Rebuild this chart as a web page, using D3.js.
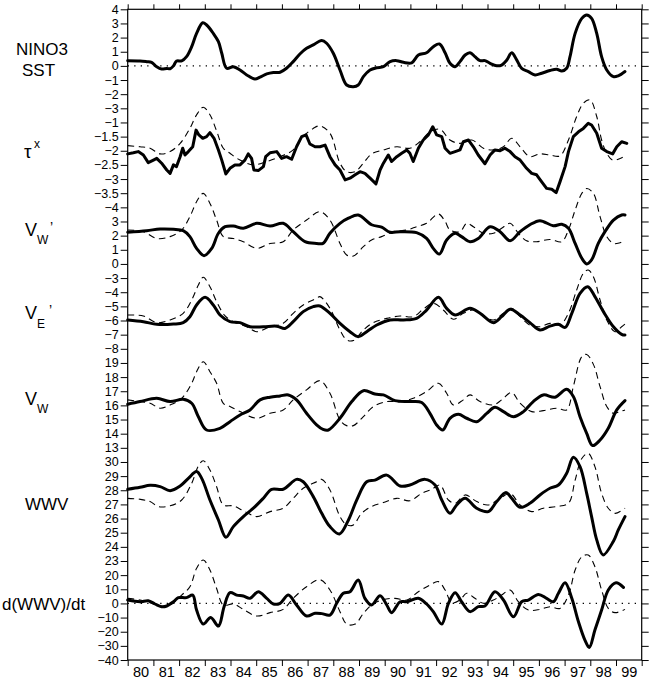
<!DOCTYPE html>
<html>
<head>
<meta charset="utf-8">
<script src="https://cdn.jsdelivr.net/npm/d3@7"></script>
<style>
  html, body { margin: 0; padding: 0; background: #fff; }
  svg text { font-family: "Liberation Sans", Arial, Helvetica, sans-serif; fill: #000; }
</style>
</head>
<body>
<svg id="chart" width="650" height="680"></svg>
<script>
// ---------------- DATA ----------------
const yearTicks = [1980,1981,1982,1983,1984,1985,1986,1987,1988,1989,1990,1991,1992,1993,1994,1995,1996,1997,1998,1999,2000];
const yearLabels = ["80","81","82","83","84","85","86","87","88","89","90","91","92","93","94","95","96","97","98","99"];

const nino3Ticks = [4,3,2,1,0,-1,-2,-3];
const tauTicks   = [-1,-1.5,-2,-2.5,-3,-3.5,-4];
const vwpTicks   = [3,2,1,0];
const vepTicks   = [-3,-4,-5,-6,-7,-8];
const vwTicks    = [19,18,17,16,15,14,13];
const wwvTicks   = [30,29,28,27,26,25,24,23];
const dwwvTicks  = [20,10,0,-10,-20,-30,-40];

const nino3Obs = [[1980.0,0.37],[1980.48,0.35],[1980.74,0.3],[1980.93,0.25],[1981.13,-0.06],[1981.32,-0.22],[1981.52,-0.18],[1981.65,-0.2],[1981.78,0.0],[1981.9,0.34],[1982.1,0.35],[1982.29,0.65],[1982.49,1.36],[1982.68,2.3],[1982.92,3.05],[1983.07,2.89],[1983.33,2.3],[1983.53,1.71],[1983.66,0.89],[1983.85,-0.17],[1984.11,-0.06],[1984.37,-0.29],[1984.63,-0.64],[1984.95,-0.93],[1985.15,-0.8],[1985.41,-0.57],[1985.67,-0.47],[1985.93,-0.45],[1986.18,-0.17],[1986.44,0.3],[1986.7,0.84],[1986.96,1.24],[1987.22,1.48],[1987.55,1.8],[1987.74,1.6],[1988.0,0.89],[1988.26,-0.29],[1988.52,-1.35],[1988.78,-1.47],[1988.97,-1.35],[1989.17,-0.76],[1989.43,-0.29],[1989.69,-0.13],[1989.95,-0.06],[1990.21,0.3],[1990.47,0.37],[1990.73,0.25],[1991.05,0.22],[1991.31,0.77],[1991.63,0.93],[1991.89,1.36],[1992.13,1.55],[1992.35,0.93],[1992.54,0.18],[1992.74,-0.06],[1992.93,0.3],[1993.13,0.77],[1993.32,0.93],[1993.51,0.65],[1993.71,0.37],[1993.9,0.37],[1994.1,0.18],[1994.36,0.01],[1994.55,0.06],[1994.75,0.41],[1994.94,0.93],[1995.14,0.41],[1995.33,-0.17],[1995.59,-0.4],[1995.85,-0.64],[1996.11,-0.52],[1996.43,-0.33],[1996.69,-0.24],[1996.89,-0.36],[1997.08,-0.17],[1997.21,0.65],[1997.41,2.3],[1997.67,3.36],[1997.86,3.6],[1998.05,3.36],[1998.25,2.3],[1998.44,0.65],[1998.64,-0.29],[1998.9,-0.76],[1999.09,-0.7],[1999.35,-0.4]];

const tauObs = [[1980.0,-2.11],[1980.22,-2.07],[1980.41,-2.03],[1980.61,-2.15],[1980.8,-2.42],[1981.0,-2.33],[1981.13,-2.27],[1981.32,-2.44],[1981.52,-2.68],[1981.65,-2.8],[1981.78,-2.5],[1981.9,-2.56],[1982.04,-2.21],[1982.14,-1.91],[1982.23,-2.15],[1982.36,-2.03],[1982.53,-1.86],[1982.66,-1.27],[1982.77,-1.44],[1982.92,-1.56],[1983.07,-1.5],[1983.2,-1.36],[1983.36,-1.56],[1983.53,-1.97],[1983.66,-2.33],[1983.82,-2.82],[1983.98,-2.62],[1984.17,-2.5],[1984.37,-2.5],[1984.56,-2.33],[1984.69,-2.11],[1984.82,-2.27],[1984.91,-2.68],[1985.08,-2.7],[1985.28,-2.56],[1985.37,-2.21],[1985.54,-2.07],[1985.8,-2.03],[1985.99,-2.27],[1986.18,-2.21],[1986.38,-2.3],[1986.57,-1.86],[1986.77,-1.5],[1986.94,-1.44],[1987.09,-1.76],[1987.29,-1.86],[1987.48,-1.86],[1987.68,-1.8],[1987.87,-2.21],[1988.07,-2.5],[1988.26,-2.68],[1988.46,-3.03],[1988.65,-2.97],[1988.85,-2.85],[1989.04,-2.74],[1989.23,-2.8],[1989.43,-2.97],[1989.66,-3.17],[1989.82,-2.68],[1989.95,-2.44],[1990.14,-2.15],[1990.27,-2.38],[1990.47,-2.21],[1990.66,-2.09],[1990.86,-1.97],[1990.98,-2.09],[1991.11,-2.38],[1991.31,-1.91],[1991.5,-1.62],[1991.7,-1.44],[1991.87,-1.15],[1992.02,-1.44],[1992.22,-1.5],[1992.35,-1.91],[1992.54,-2.09],[1992.74,-2.03],[1992.93,-1.97],[1993.06,-1.68],[1993.26,-1.62],[1993.45,-1.86],[1993.64,-2.15],[1993.9,-2.46],[1994.1,-2.15],[1994.29,-1.97],[1994.49,-2.0],[1994.68,-1.91],[1994.88,-2.03],[1995.07,-2.21],[1995.27,-2.33],[1995.52,-2.62],[1995.72,-2.8],[1995.91,-2.85],[1996.11,-3.1],[1996.3,-3.33],[1996.5,-3.36],[1996.67,-3.48],[1996.82,-3.1],[1997.02,-2.56],[1997.15,-2.03],[1997.34,-1.5],[1997.54,-1.33],[1997.73,-1.21],[1997.92,-1.03],[1998.05,-1.09],[1998.25,-1.38],[1998.44,-1.91],[1998.64,-2.03],[1998.87,-2.11],[1999.03,-1.86],[1999.22,-1.68],[1999.42,-1.74]];

const tauMod = [[1980.0,-1.82],[1980.48,-1.86],[1980.87,-1.91],[1981.26,-2.11],[1981.65,-2.03],[1982.04,-1.74],[1982.42,-1.21],[1982.68,-0.73],[1982.94,-0.46],[1983.2,-0.73],[1983.46,-1.3],[1983.72,-1.91],[1983.98,-2.09],[1984.37,-2.33],[1984.89,-2.5],[1985.41,-2.38],[1985.93,-2.21],[1986.44,-1.97],[1986.83,-1.5],[1987.22,-1.21],[1987.48,-1.12],[1987.87,-1.38],[1988.26,-2.44],[1988.52,-2.74],[1988.85,-2.74],[1989.17,-2.44],[1989.49,-2.11],[1989.95,-1.97],[1990.47,-1.86],[1990.98,-1.91],[1991.37,-1.68],[1991.76,-1.33],[1992.15,-1.24],[1992.54,-1.62],[1992.93,-1.74],[1993.39,-1.62],[1993.84,-1.91],[1994.23,-1.97],[1994.62,-1.86],[1994.94,-1.56],[1995.27,-1.86],[1995.65,-2.21],[1996.04,-2.11],[1996.43,-2.15],[1996.82,-2.18],[1997.15,-1.62],[1997.47,-0.79],[1997.73,-0.32],[1997.99,-0.2],[1998.25,-0.79],[1998.44,-1.62],[1998.64,-2.09],[1998.87,-2.33],[1999.16,-2.27],[1999.35,-2.18]];

const vwpObs = [[1980.0,2.24],[1980.74,2.35],[1981.26,2.47],[1981.78,2.45],[1982.16,2.35],[1982.42,1.93],[1982.68,1.1],[1982.97,0.58],[1983.27,1.1],[1983.53,2.17],[1983.79,2.63],[1984.11,2.68],[1984.5,2.52],[1985.02,2.87],[1985.54,2.68],[1986.05,2.87],[1986.44,2.28],[1986.9,1.57],[1987.35,1.45],[1987.6,1.45],[1987.87,2.17],[1988.26,2.87],[1988.59,3.23],[1988.97,3.46],[1989.49,2.77],[1989.88,2.6],[1990.21,2.24],[1990.6,2.28],[1991.24,2.21],[1991.63,1.8],[1991.89,1.1],[1992.13,0.7],[1992.41,1.69],[1992.74,2.17],[1992.99,1.93],[1993.32,1.57],[1993.64,1.8],[1994.1,2.63],[1994.49,2.28],[1994.88,1.64],[1995.27,2.28],[1995.65,2.77],[1996.04,3.06],[1996.56,2.7],[1996.89,2.8],[1997.15,2.52],[1997.41,1.45],[1997.67,0.4],[1997.86,0.0],[1998.05,0.28],[1998.31,1.45],[1998.57,2.28],[1998.9,3.1],[1999.22,3.46],[1999.35,3.46]];

const vwpMod = [[1980.0,2.4],[1980.61,2.28],[1981.13,1.8],[1981.65,1.93],[1982.1,2.4],[1982.42,3.34],[1982.68,4.4],[1982.94,4.99],[1983.2,4.28],[1983.46,3.1],[1983.72,1.93],[1984.11,1.8],[1984.5,1.57],[1985.02,1.1],[1985.54,1.45],[1986.05,1.57],[1986.44,2.4],[1986.96,3.1],[1987.48,3.69],[1987.87,3.1],[1988.26,1.45],[1988.52,0.63],[1988.78,0.56],[1989.17,1.22],[1989.49,1.69],[1989.88,1.93],[1990.34,2.28],[1990.86,2.4],[1991.24,2.63],[1991.63,2.87],[1992.09,3.53],[1992.35,3.0],[1992.54,2.4],[1992.93,2.28],[1993.19,2.87],[1993.45,2.63],[1993.84,2.17],[1994.23,2.17],[1994.55,2.52],[1994.88,2.87],[1995.2,2.17],[1995.52,1.64],[1995.91,1.57],[1996.43,1.73],[1996.89,1.57],[1997.15,2.4],[1997.41,3.81],[1997.67,4.99],[1997.86,5.33],[1998.12,4.99],[1998.38,3.34],[1998.64,1.93],[1998.9,1.45],[1999.16,1.5],[1999.35,1.64]];

const vepObs = [[1980.0,-5.96],[1980.61,-6.08],[1981.13,-6.27],[1981.78,-6.25],[1982.16,-6.15],[1982.42,-5.73],[1982.68,-4.9],[1983.01,-4.36],[1983.33,-4.9],[1983.59,-5.61],[1983.98,-6.08],[1984.37,-6.15],[1984.76,-6.44],[1985.28,-6.44],[1985.8,-6.4],[1986.12,-6.56],[1986.44,-6.08],[1986.83,-5.37],[1987.22,-5.02],[1987.48,-4.97],[1987.87,-5.49],[1988.26,-6.2],[1988.65,-6.79],[1988.97,-7.14],[1989.3,-6.79],[1989.69,-6.32],[1990.21,-5.96],[1990.73,-5.96],[1991.24,-5.85],[1991.63,-5.26],[1992.09,-4.36],[1992.41,-5.14],[1992.74,-5.61],[1993.32,-5.14],[1993.71,-5.49],[1994.23,-6.15],[1994.55,-5.73],[1994.88,-5.2],[1995.27,-5.61],[1995.65,-6.15],[1996.04,-6.67],[1996.43,-6.4],[1996.76,-6.27],[1997.02,-6.49],[1997.28,-5.49],[1997.6,-4.08],[1997.9,-3.61],[1998.18,-4.31],[1998.51,-5.37],[1998.9,-6.44],[1999.22,-6.98],[1999.35,-7.03]];

const vepMod = [[1980.0,-5.61],[1980.61,-5.68],[1981.13,-6.15],[1981.65,-5.96],[1982.16,-5.49],[1982.49,-4.55],[1982.75,-3.49],[1982.94,-2.94],[1983.2,-3.61],[1983.46,-4.67],[1983.79,-5.68],[1984.11,-6.08],[1984.63,-6.44],[1985.02,-6.79],[1985.54,-6.44],[1986.05,-6.2],[1986.44,-5.49],[1986.83,-4.9],[1987.35,-4.43],[1987.48,-4.31],[1987.87,-5.14],[1988.26,-6.67],[1988.52,-7.37],[1988.78,-7.42],[1989.17,-6.67],[1989.56,-6.15],[1990.08,-5.85],[1990.6,-5.68],[1991.11,-5.73],[1991.5,-5.2],[1991.89,-4.78],[1992.28,-5.26],[1992.67,-5.91],[1993.06,-5.49],[1993.45,-5.26],[1993.84,-5.68],[1994.23,-5.96],[1994.62,-5.49],[1994.94,-5.14],[1995.27,-5.73],[1995.65,-6.32],[1996.04,-6.44],[1996.43,-6.2],[1996.82,-6.32],[1997.15,-5.49],[1997.47,-3.84],[1997.73,-2.66],[1997.92,-2.43],[1998.12,-2.9],[1998.38,-4.55],[1998.64,-5.96],[1998.96,-6.79],[1999.22,-6.44],[1999.35,-6.25]];

const vwObs = [[1980.0,16.08],[1980.48,16.27],[1981.13,16.5],[1981.65,16.27],[1982.16,16.43],[1982.49,16.15],[1982.75,15.2],[1983.07,14.26],[1983.59,14.38],[1983.98,14.85],[1984.37,15.32],[1984.76,15.68],[1985.15,16.39],[1985.54,16.58],[1985.93,16.67],[1986.25,16.74],[1986.57,16.39],[1986.96,15.44],[1987.35,14.62],[1987.6,14.3],[1987.81,14.26],[1988.26,15.09],[1988.72,16.27],[1989.17,17.04],[1989.62,16.8],[1989.95,16.74],[1990.4,16.34],[1990.98,16.27],[1991.44,16.2],[1991.76,15.44],[1992.02,14.62],[1992.26,14.26],[1992.54,15.09],[1992.87,15.37],[1993.19,15.09],[1993.58,14.85],[1993.97,15.44],[1994.29,15.86],[1994.62,15.56],[1995.01,15.2],[1995.4,15.56],[1995.78,16.27],[1996.17,16.74],[1996.63,16.58],[1997.08,17.14],[1997.34,16.63],[1997.6,15.2],[1997.86,14.02],[1998.09,13.16],[1998.38,13.55],[1998.7,14.38],[1999.03,15.68],[1999.35,16.34]];

const vwMod = [[1980.0,16.39],[1980.48,16.27],[1980.87,16.15],[1981.26,15.8],[1981.65,16.03],[1982.1,16.5],[1982.49,17.56],[1982.68,18.38],[1982.94,19.09],[1983.2,18.38],[1983.46,17.56],[1983.72,16.15],[1983.98,15.92],[1984.37,15.56],[1985.02,15.09],[1985.54,15.44],[1986.05,15.68],[1986.44,16.39],[1986.96,17.1],[1987.48,17.75],[1987.87,16.86],[1988.26,14.97],[1988.52,14.57],[1988.78,14.57],[1989.17,15.2],[1989.56,15.92],[1990.08,16.27],[1990.6,16.27],[1991.11,16.5],[1991.63,16.98],[1992.09,17.56],[1992.41,16.86],[1992.67,16.03],[1993.06,16.39],[1993.32,16.74],[1993.71,16.27],[1994.23,16.03],[1994.55,16.39],[1994.94,16.91],[1995.27,16.15],[1995.72,15.56],[1996.17,15.63],[1996.69,15.8],[1997.08,15.68],[1997.34,17.33],[1997.67,19.45],[1997.86,19.6],[1998.12,18.9],[1998.38,17.33],[1998.64,15.92],[1998.9,15.44],[1999.16,15.56],[1999.35,15.68]];

const wwvObs = [[1980.0,28.07],[1980.48,28.21],[1980.87,28.35],[1981.26,28.26],[1981.65,27.97],[1982.04,28.3],[1982.36,28.84],[1982.68,29.32],[1982.88,28.84],[1983.2,27.31],[1983.53,25.9],[1983.82,24.68],[1984.11,25.43],[1984.5,26.14],[1984.89,26.73],[1985.28,27.44],[1985.6,28.07],[1986.05,28.07],[1986.57,28.77],[1986.83,28.6],[1987.22,27.55],[1987.55,26.37],[1987.87,25.43],[1988.24,24.91],[1988.59,25.9],[1988.91,27.31],[1989.3,28.6],[1989.62,28.72],[1990.08,29.07],[1990.6,28.3],[1990.98,28.37],[1991.57,28.77],[1991.96,28.37],[1992.22,27.31],[1992.54,26.37],[1992.8,26.96],[1993.13,27.44],[1993.58,26.73],[1994.03,26.49],[1994.36,27.2],[1994.72,27.84],[1994.94,27.44],[1995.27,26.8],[1995.65,27.08],[1996.04,27.67],[1996.43,28.14],[1996.76,28.37],[1997.08,29.2],[1997.34,30.33],[1997.6,29.67],[1997.86,27.78],[1998.05,26.14],[1998.25,24.49],[1998.5,23.43],[1998.9,24.4],[1999.09,25.2],[1999.35,26.14]];

const wwvMod = [[1980.0,27.43],[1980.48,27.36],[1980.87,27.2],[1981.19,26.85],[1981.65,26.9],[1982.1,27.31],[1982.49,28.49],[1982.75,29.72],[1982.94,30.09],[1983.2,29.43],[1983.46,28.25],[1983.72,26.96],[1984.11,26.9],[1984.5,26.55],[1985.02,26.14],[1985.54,26.49],[1986.05,26.73],[1986.44,27.43],[1986.83,28.14],[1987.35,28.6],[1987.55,28.77],[1987.87,28.02],[1988.26,26.14],[1988.52,25.55],[1988.78,25.55],[1989.1,26.37],[1989.49,26.85],[1989.95,27.13],[1990.47,27.43],[1990.98,27.26],[1991.44,27.78],[1991.83,28.07],[1992.15,28.37],[1992.48,27.31],[1992.74,27.08],[1993.13,27.67],[1993.58,27.2],[1994.03,26.96],[1994.49,27.43],[1994.88,27.78],[1995.27,26.96],[1995.72,26.49],[1996.17,26.73],[1996.69,26.85],[1997.15,27.08],[1997.41,28.72],[1997.67,30.25],[1997.92,30.61],[1998.18,29.67],[1998.44,27.78],[1998.7,26.73],[1998.96,26.37],[1999.35,26.73]];

const dwwvObs = [[1980.0,2.4],[1980.48,1.2],[1980.8,1.9],[1981.06,-0.4],[1981.32,-2.3],[1981.52,-1.8],[1981.78,1.2],[1981.97,4.1],[1982.29,4.1],[1982.53,5.9],[1982.68,-4.7],[1982.94,-14.6],[1983.23,-9.9],[1983.53,-16.0],[1983.75,-2.3],[1983.98,7.6],[1984.24,5.9],[1984.5,5.2],[1984.76,3.6],[1985.08,8.3],[1985.41,3.6],[1985.67,-0.4],[1985.93,0.1],[1986.25,5.9],[1986.57,-1.1],[1986.96,-8.9],[1987.29,-7.0],[1987.55,-7.2],[1987.87,-8.2],[1988.13,0.1],[1988.39,7.2],[1988.65,8.3],[1988.97,16.5],[1989.23,3.6],[1989.49,-1.1],[1989.82,5.5],[1990.08,-1.1],[1990.27,-6.5],[1990.6,1.2],[1990.86,1.2],[1991.31,3.6],[1991.63,-0.4],[1991.89,-5.8],[1992.22,-14.6],[1992.48,0.1],[1992.74,7.6],[1992.99,1.2],[1993.32,-5.8],[1993.64,-2.3],[1993.9,-1.8],[1994.29,8.3],[1994.62,2.4],[1995.01,-9.4],[1995.33,1.2],[1995.59,2.4],[1995.98,6.4],[1996.3,3.6],[1996.56,1.2],[1996.76,7.2],[1997.02,14.6],[1997.28,3.6],[1997.54,-13.0],[1997.79,-25.9],[1997.96,-31.1],[1998.18,-18.8],[1998.44,-4.7],[1998.7,9.5],[1999.0,14.6],[1999.29,11.3]];

const dwwvMod = [[1980.0,3.6],[1980.48,2.4],[1980.87,0.5],[1981.26,-1.8],[1981.65,-1.1],[1982.1,5.9],[1982.42,11.8],[1982.68,24.8],[1982.94,30.7],[1983.2,23.6],[1983.46,10.6],[1983.72,-1.1],[1984.11,-0.4],[1984.5,-4.2],[1985.02,-8.9],[1985.54,-6.5],[1986.05,-4.2],[1986.44,3.6],[1986.96,11.8],[1987.48,16.8],[1987.87,9.5],[1988.26,-5.8],[1988.52,-14.6],[1988.85,-14.6],[1989.17,-7.0],[1989.49,-1.1],[1989.88,2.4],[1990.4,3.6],[1990.86,2.4],[1991.31,8.3],[1991.76,13.0],[1992.09,15.4],[1992.35,9.5],[1992.61,0.5],[1992.93,2.4],[1993.19,7.2],[1993.51,3.6],[1993.84,0.1],[1994.23,2.4],[1994.55,5.9],[1994.88,9.5],[1995.2,1.2],[1995.59,-4.7],[1996.04,-4.2],[1996.43,-2.3],[1996.82,-3.5],[1997.15,5.9],[1997.41,23.6],[1997.67,33.0],[1997.92,34.2],[1998.18,25.9],[1998.44,9.5],[1998.7,-3.5],[1998.96,-6.5],[1999.35,-4.2]];

// ---------------- LAYOUT ----------------
const svg = d3.select("#chart");
const X0 = 127.7, X1 = 641.7, YTOP = 9.3, STEP = 14.146;

const x = d3.scaleLinear().domain([1980, 2000]).range([X0, X1]);

const panels = [
  {ticks: nino3Ticks, obs: nino3Obs, mod: null,    zero: true,  jagged: false},
  {ticks: tauTicks,   obs: tauObs,   mod: tauMod,  zero: false, jagged: true},
  {ticks: vwpTicks,   obs: vwpObs,   mod: vwpMod,  zero: false, jagged: false},
  {ticks: vepTicks,   obs: vepObs,   mod: vepMod,  zero: false, jagged: false},
  {ticks: vwTicks,    obs: vwObs,    mod: vwMod,   zero: false, jagged: false},
  {ticks: wwvTicks,   obs: wwvObs,   mod: wwvMod,  zero: false, jagged: false},
  {ticks: dwwvTicks,  obs: dwwvObs,  mod: dwwvMod, zero: true,  jagged: false}
];

let idx = 0;
panels.forEach(p => {
  const first = idx, last = idx + p.ticks.length - 1;
  p.y = d3.scaleLinear()
    .domain([p.ticks[0], p.ticks[p.ticks.length - 1]])
    .range([YTOP + first * STEP, YTOP + last * STEP]);
  idx += p.ticks.length;
});
const YBOT = YTOP + (idx - 1) * STEP;

const fmt = d3.format("");

// zero dotted lines
panels.filter(p => p.zero).forEach(p => {
  svg.append("line")
    .attr("x1", X0).attr("x2", X1)
    .attr("y1", p.y(0)).attr("y2", p.y(0))
    .attr("stroke", "#000").attr("stroke-width", 1.3)
    .attr("stroke-dasharray", "1.3,5.2");
});

// curves
panels.forEach(p => {
  const smooth = d3.line().x(d => x(d[0])).y(d => p.y(d[1])).curve(d3.curveCatmullRom.alpha(0.5));
  const lin = d3.line().x(d => x(d[0])).y(d => p.y(d[1])).curve(d3.curveLinear);
  if (p.mod) {
    svg.append("path").attr("d", smooth(p.mod))
      .attr("fill", "none").attr("stroke", "#000").attr("stroke-width", 1.1)
      .attr("stroke-dasharray", "6.5,4.5");
  }
  svg.append("path").attr("d", (p.jagged ? lin : smooth)(p.obs))
    .attr("fill", "none").attr("stroke", "#000").attr("stroke-width", 3)
    .attr("stroke-linejoin", "round").attr("stroke-linecap", "round");
});

// left axes (per panel)
panels.forEach(p => {
  const g = svg.append("g").attr("transform", `translate(${X0},0)`)
    .call(d3.axisLeft(p.y).tickValues(p.ticks).tickSize(7).tickPadding(2).tickFormat(d => fmt(d)));
  g.select(".domain").remove();
  g.selectAll("text").attr("font-size", 12.5).attr("font-family", "Liberation Sans, Arial, sans-serif");
  g.selectAll("line").attr("stroke-width", 1);
  const gr = svg.append("g").attr("transform", `translate(${X1},0)`)
    .call(d3.axisRight(p.y).tickValues(p.ticks).tickSize(7).tickFormat(""));
  gr.select(".domain").remove();
});

// top axis
const gt = svg.append("g").attr("transform", `translate(0,${YTOP})`)
  .call(d3.axisTop(x).tickValues(yearTicks).tickSize(5).tickFormat(""));
gt.select(".domain").remove();

// bottom axis
const gb = svg.append("g").attr("transform", `translate(0,${YBOT})`)
  .call(d3.axisBottom(x).tickValues(yearTicks).tickSize(6).tickFormat(""));
gb.select(".domain").remove();
const gl = svg.append("g").attr("transform", `translate(0,${YBOT})`)
  .call(d3.axisBottom(x).tickValues(yearLabels.map((s, i) => yearTicks[i] + 0.5))
    .tickSize(0).tickPadding(7).tickFormat((d, i) => yearLabels[i]));
gl.select(".domain").remove();
gl.selectAll("text").attr("font-size", 14.5).attr("font-family", "Liberation Sans, Arial, sans-serif");

// frame
svg.append("rect").attr("x", X0).attr("y", YTOP).attr("width", X1 - X0).attr("height", YBOT - YTOP)
  .attr("fill", "none").attr("stroke", "#000").attr("stroke-width", 1.2);

// row labels
const lab = (t, xx, yy, fs) => svg.append("text").attr("x", xx).attr("y", yy).attr("font-size", fs).text(t);
lab("NINO3", 16, 55, 17);
lab("SST", 22, 76, 17);
lab("τ", 24, 158, 19);
lab("x", 34, 148, 12);
lab("V", 25, 236, 18);
lab("W", 37, 244, 12);
lab("’", 50, 232, 14);
lab("V", 25, 319, 18);
lab("E", 37, 328, 12);
lab("’", 49, 315, 14);
lab("V", 25, 405, 18);
lab("W", 37, 413, 12);
lab("WWV", 25, 510, 17);
lab("d(WWV)/dt", 2, 610, 17);
</script>
</body>
</html>
